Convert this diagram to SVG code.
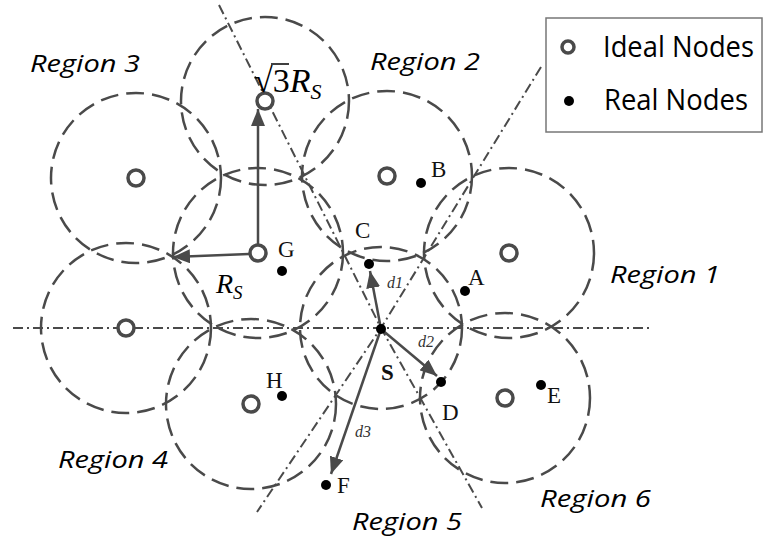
<svg xmlns="http://www.w3.org/2000/svg" width="763" height="543" viewBox="0 0 763 543">
<style>
.cov{fill:none;stroke:#4a4a4a;stroke-width:2.5;stroke-dasharray:18 8}
.div{fill:none;stroke:#4a4a4a;stroke-width:2;stroke-dasharray:10 4 2 4}
.ideal{fill:#fff;stroke:#4a4a4a;stroke-width:3.5}
.real{fill:#000}
.arr{fill:none;stroke:#4a4a4a;stroke-width:2.5}
.reg{font-family:"Open Sans",sans-serif;font-style:italic;font-size:24px;fill:#000}
.lab{font-family:"Liberation Serif",serif;font-size:23px;fill:#111}
.dl{font-family:"Liberation Serif",serif;font-style:italic;font-size:16px;fill:#333}
.leg{font-family:"Open Sans",sans-serif;font-size:29px;fill:#000}
</style>
<defs>
<marker id="ah" markerUnits="userSpaceOnUse" markerWidth="18" markerHeight="14" refX="17" refY="7" orient="auto">
<path d="M0,0 L17,7 L0,14 Z" fill="#4a4a4a"/>
</marker>
</defs>
<g id="coverage">
<circle class="cov" cx="265" cy="101" r="84"/>
<circle class="cov" cx="136" cy="178" r="85"/>
<circle class="cov" cx="387" cy="176" r="85"/>
<circle class="cov" cx="258" cy="253" r="85"/>
<circle class="cov" cx="509" cy="253" r="85"/>
<circle class="cov" cx="126" cy="328" r="85"/>
<circle class="cov" cx="381" cy="328" r="81"/>
<circle class="cov" cx="251" cy="404" r="85"/>
<circle class="cov" cx="505" cy="398" r="85"/>
</g>
<g id="dividers">
<line class="div" x1="13" y1="328" x2="650" y2="328"/>
<polyline class="div" points="219,5 381,328 482,508"/>
<polyline class="div" points="541,67 381,328 257,512"/>
</g>
<g id="connectors">
<line class="arr" x1="258" y1="244" x2="258" y2="109" marker-end="url(#ah)"/>
<line class="arr" x1="249" y1="254" x2="173" y2="257" marker-end="url(#ah)"/>
<line class="arr" x1="381" y1="329" x2="370" y2="271" marker-end="url(#ah)"/>
<line class="arr" x1="381" y1="329" x2="437" y2="376" marker-end="url(#ah)"/>
<line class="arr" x1="381" y1="329" x2="331" y2="474" marker-end="url(#ah)"/>
</g>
<g id="ideal-nodes">
<circle class="ideal" cx="265" cy="101" r="8"/>
<circle class="ideal" cx="136" cy="178" r="8"/>
<circle class="ideal" cx="387" cy="176" r="8"/>
<circle class="ideal" cx="258" cy="253" r="8"/>
<circle class="ideal" cx="509" cy="253" r="8"/>
<circle class="ideal" cx="126" cy="328" r="8"/>
<circle class="ideal" cx="251" cy="404" r="8"/>
<circle class="ideal" cx="505" cy="398" r="8"/>
</g>
<g id="node-A"><circle class="real" cx="465" cy="291" r="5"/><text class="lab" x="468" y="285">A</text></g>
<g id="node-B"><circle class="real" cx="421" cy="183" r="5"/><text class="lab" x="431" y="177">B</text></g>
<g id="node-C"><circle class="real" cx="369" cy="264" r="5"/><text class="lab" x="355" y="238">C</text></g>
<g id="node-D"><circle class="real" cx="441" cy="382" r="5"/><text class="lab" x="442" y="420">D</text></g>
<g id="node-E"><circle class="real" cx="541" cy="385" r="5"/><text class="lab" x="547" y="403">E</text></g>
<g id="node-F"><circle class="real" cx="326" cy="485" r="5"/><text class="lab" x="337" y="493">F</text></g>
<g id="node-G"><circle class="real" cx="282" cy="271" r="5"/><text class="lab" x="278" y="257">G</text></g>
<g id="node-H"><circle class="real" cx="282" cy="396" r="5"/><text class="lab" x="266" y="388">H</text></g>
<g id="node-S"><circle class="real" cx="381" cy="329" r="5"/><text class="lab" x="381" y="380" font-weight="bold">S</text></g>
<g id="distance-labels">
<text class="dl" x="387" y="288">d1</text>
<text class="dl" x="418" y="347">d2</text>
<text class="dl" x="355" y="437">d3</text>
</g>
<g id="radius-labels">
<text x="254" y="92" font-family="Liberation Serif,serif" font-size="34" fill="#000">√3<tspan font-style="italic">R</tspan><tspan font-style="italic" font-size="22" dy="7">S</tspan></text>
<line x1="271" y1="64" x2="289" y2="64" stroke="#000" stroke-width="1.5"/>
<text x="216" y="293" font-family="Liberation Serif,serif" font-size="28" font-style="italic" fill="#000">R<tspan font-size="19" dy="6">S</tspan></text>
</g>
<g id="regions">
<text class="reg" x="30" y="72" textLength="110" lengthAdjust="spacingAndGlyphs">Region 3</text>
<text class="reg" x="370" y="70" textLength="110" lengthAdjust="spacingAndGlyphs">Region 2</text>
<text class="reg" x="610" y="283" textLength="110" lengthAdjust="spacingAndGlyphs">Region 1</text>
<text class="reg" x="58" y="468" textLength="110" lengthAdjust="spacingAndGlyphs">Region 4</text>
<text class="reg" x="352" y="530" textLength="110" lengthAdjust="spacingAndGlyphs">Region 5</text>
<text class="reg" x="540" y="507" textLength="111" lengthAdjust="spacingAndGlyphs">Region 6</text>
</g>
<g id="legend">
<rect x="546" y="18" width="216" height="114" fill="#fff" stroke="#777" stroke-width="1.5"/>
<circle class="ideal" cx="568" cy="47" r="6"/>
<circle class="real" cx="569" cy="101" r="5"/>
<text class="leg" x="603" y="57" textLength="151" lengthAdjust="spacingAndGlyphs">Ideal Nodes</text>
<text class="leg" x="604" y="110" textLength="144" lengthAdjust="spacingAndGlyphs">Real Nodes</text>
</g>
</svg>
